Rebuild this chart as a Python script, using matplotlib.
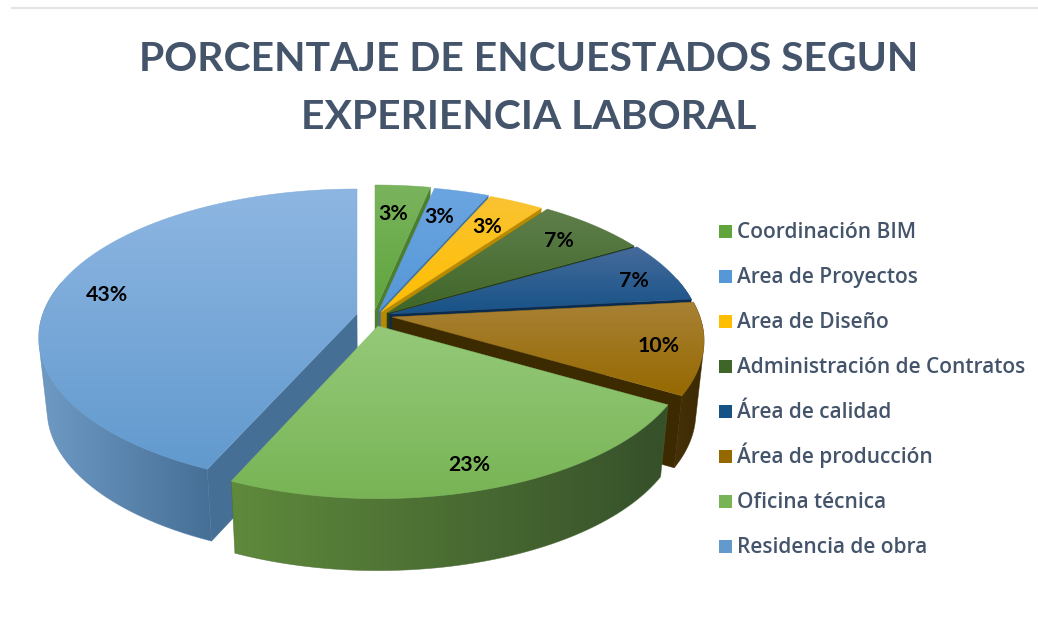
import numpy as np
import matplotlib
matplotlib.use("Agg")
import matplotlib.pyplot as plt
from matplotlib.patches import Polygon, Rectangle
from matplotlib.colors import LinearSegmentedColormap
from matplotlib.lines import Line2D

TITLE = "PORCENTAJE DE ENCUESTADOS SEGUN\nEXPERIENCIA LABORAL"
categories = ["Coordinación BIM", "Area de Proyectos", "Area de Diseño",
              "Administración de Contratos", "Área de calidad",
              "Área de producción", "Oficina técnica", "Residencia de obra"]
counts = [1, 1, 1, 2, 2, 3, 7, 13]

# style: top gradient (upper, lower), wall gradient (left, right)
top_cols = [("#7ab45e", "#5fa53c"), ("#6ba5e1", "#5597d7"), ("#fac332", "#ffbe00"),
            ("#5f7f4b", "#3f6528"), ("#466b9b", "#175287"), ("#a88135", "#966900"),
            ("#95c979", "#78b455"), ("#8eb6e2", "#629ace")]
wall_cols = [("#4d7e30", "#4d7e30"), ("#3d72a8", "#3d72a8"), ("#b98a00", "#b98a00"),
             ("#243c16", "#243c16"), ("#0b2b4e", "#0b2b4e"), ("#45300a", "#3c2a00"),
             ("#5f8a3c", "#36502a"), ("#6e9ac4", "#466f96")]
apex = [(375, 310), (379, 311), (381, 312), (387, 313), (390, 314), (392, 317), (378, 326), (357, 314)]
x_scale = [1, 1, 1, 1, 1, 1, 1, 1.02]
label_r = [.76, .75, .77, .80, .86, .85, .83, .85]
label_dx = [-4, -4, -1, 3, 2, 3, 1, 4]
label_dy = [2, -1, 2, -1, 4, 3, 8, 6]
draw_order = [0, 1, 2, 3, 4, 5, 7, 6]

A, B, K = 308.0, 145.0, 0.16   # projection of the tilted disc
H, SHR, CX = 72.0, 0.975, 375.0  # wall height, bottom shrink

fig = plt.figure(figsize=(10.38, 6.25), dpi=100)
ax = fig.add_axes([0, 0, 1, 1])
ax.set_xlim(0, 1038)
ax.set_ylim(625, 0)
ax.axis("off")


def proj(theta, r, i):
    u, v = r * np.sin(theta), r * np.cos(theta)
    w = 1 + K * v
    return apex[i][0] + A * x_scale[i] * u / w, apex[i][1] - B * v / w


def drop(x, y):
    return CX + (np.asarray(x) - CX) * SHR, np.asarray(y) + H


def hull(pts):
    pts = sorted(set((float(a), float(b)) for a, b in pts))

    def half(seq):
        out = []
        for p in seq:
            while len(out) > 1 and ((out[-1][0] - out[-2][0]) * (p[1] - out[-2][1])
                                    - (out[-1][1] - out[-2][1]) * (p[0] - out[-2][0])) <= 0:
                out.pop()
            out.append(p)
        return out[:-1]
    return half(pts) + half(pts[::-1])


def gradient(pts, c0, c1, vertical, z):
    pts = np.asarray(pts)
    x0, x1, y0, y1 = pts[:, 0].min(), pts[:, 0].max(), pts[:, 1].min(), pts[:, 1].max()
    cmap = LinearSegmentedColormap.from_list("g", [c0, c1])
    g = np.linspace(0, 1, 256)
    g = g[:, None] if vertical else g[None, :]
    im = ax.imshow(g, cmap=cmap, vmin=0, vmax=1, extent=(x0, x1, y1, y0),
                   aspect="auto", zorder=z, interpolation="bilinear")
    clip = Polygon(pts, closed=True, transform=ax.transData)
    im.set_clip_path(clip)
    mid = cmap(0.5)
    ax.add_patch(Polygon(pts, closed=True, fc="none", ec=mid, lw=0.45, alpha=0.7, zorder=z + 0.01))


total = sum(counts)
edges = np.cumsum([0] + counts) / total * 2 * np.pi
z = 2.0
for i in draw_order:
    a0, a1 = edges[i], edges[i + 1]
    ap = apex[i]
    th = np.linspace(a0, a1, 90)
    ax_, ay_ = proj(th, 1.0, i)
    # outer wall (front part only), the radial walls facing the viewer, then the top face
    front = np.cos(th) < 0.25
    if front.sum() > 2:
        bx, by = drop(ax_[front], ay_[front])
        gradient(hull(list(zip(ax_[front], ay_[front])) + list(zip(bx, by))),
                 wall_cols[i][0], wall_cols[i][1], False, z)
        z += 0.1
    for ang, visible in ((a0, np.sin(a0) < -1e-9), (a1, np.sin(a1) > 1e-9)):
        if not visible:
            continue
        ex, ey = proj(ang, 1.0, i)
        rx, ry = drop([ap[0], ex], [ap[1], ey])
        gradient([(ap[0], ap[1]), (ex, ey), (rx[1], ry[1]), (rx[0], ry[0])],
                 wall_cols[i][1], wall_cols[i][1], False, z)
        z += 0.1
    gradient([ap] + list(zip(ax_, ay_)), top_cols[i][0], top_cols[i][1], True, z)
    z += 0.1

ax.set_xlim(0, 1038)
ax.set_ylim(625, 0)

for i, n in enumerate(counts):
    mid = (edges[i] + edges[i + 1]) / 2
    x, y = proj(mid, label_r[i], i)
    ax.text(x + label_dx[i], y + label_dy[i], f"{n / total * 100:.0f}%", ha="center", va="center",
            fontsize=15.3, family="Lato", weight="bold", color="black", zorder=50)

ax.text(529, 88.5, TITLE, ha="center", va="center", fontsize=29.4, family="Lato",
        weight="bold", color="#44546a", linespacing=1.68, zorder=50)

fig.add_artist(Line2D([12 / 1038, 1], [1 - 8 / 625] * 2, color="#e4e4e4", lw=1.6))

for i, name in enumerate(categories):
    base = 238 + 45 * i
    ax.add_patch(Rectangle((719, base - 13), 13, 13, fc=top_cols[i][1], ec="none", zorder=60))
    ax.text(737, base, name, ha="left", va="baseline", fontsize=15, family="Open Sans",
            weight="semibold", color="#44546a", zorder=60)

fig.savefig("out.png", dpi=100)
